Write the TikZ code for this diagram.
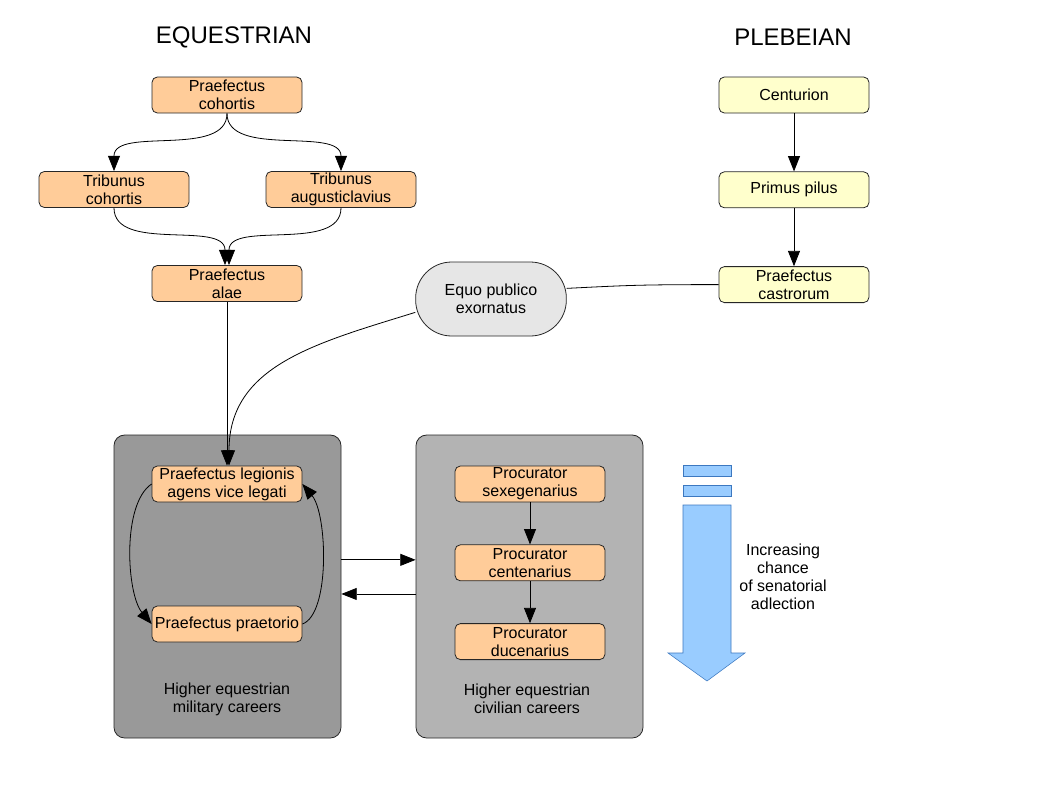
\documentclass[tikz,border=0pt]{standalone}
\usepackage{fontspec}
\setmainfont{Liberation Sans}
\usepackage{xcolor}
\usepackage{tikz}
\usetikzlibrary{positioning}
\usetikzlibrary{arrows.meta}
\definecolor{peach}{HTML}{FFCC99}
\definecolor{cream}{HTML}{FFFFCC}
\definecolor{pale}{HTML}{E6E6E6}
\definecolor{darkpanel}{HTML}{999999}
\definecolor{lightpanel}{HTML}{B3B3B3}
\definecolor{skyfill}{HTML}{99CCFF}
\definecolor{skyedge}{HTML}{3C78C0}
\tikzset {
  node distance={43.5pt},
  % rank boxes
  main/.style = {draw=black!85, semithick, rounded corners=4pt, minimum width=112.5pt,
    minimum height=27pt, inner sep=1pt, align=center, font=\fontsize{12}{13.5}\selectfont},
  % equestrian and plebeian ranks
  equestrian/.style={main, fill=peach},
  plebeian/.style={main, fill=cream},
  % the grant of the public horse
  honour/.style={main, fill=pale, rounded corners=27pt, minimum width=113pt, minimum height=55.5pt},
  % career groups
  panel/.style={draw=black!85, semithick, rounded corners=8pt, minimum width=170.25pt, minimum height=227.25pt},
  % plain text
  title/.style={font=\fontsize{18}{20}\selectfont},
  caption/.style={align=center, font=\fontsize{12}{13.5}\selectfont},
  band/.style={draw=skyedge, fill=skyfill},
  link/.style={semithick, -{Triangle[length=11.5pt,width=9pt]}},
}
\begin{document}
\begin{tikzpicture}[x=0.75pt, y=-0.75pt]
        \useasboundingbox (0,0) rectangle (1058,794);

        \node[title] (eqt) at (234,37) {EQUESTRIAN};
        \node[title] (plt) at (793,37) {PLEBEIAN};

        % career groups first, ranks on top
        \node[panel, fill=darkpanel] (mil) at (227.5,586.5) {};
        \node[panel, fill=lightpanel] (civ) at (529.5,586.5) {};
        \node[caption] (milt) at (227,699) {Higher equestrian\\military careers};
        \node[caption] (civt) at (527,699) {Higher equestrian\\civilian careers};

        \node[equestrian] (pco) at (227,95) {Praefectus\\cohortis};
        \node[equestrian] (tco) at (114,189.5) {Tribunus\\cohortis};
        \node[equestrian] (tau) at (341,189.5) {Tribunus\\augusticlavius};
        \node[equestrian] (pal) at (227,283.5) {Praefectus\\alae};

        \node[plebeian] (cent) at (794,95) {Centurion};
        \node[plebeian] (pil) [below=of cent] {Primus pilus};
        \node[plebeian] (cas) [below=of pil] {Praefectus\\castrorum};

        \node[honour] (eqp) at (491,299) {Equo publico\\exornatus};

        \node[equestrian] (leg) at (227,484) {Praefectus legionis\\agens vice legati};
        \node[equestrian] (pre) at (227,624) {Praefectus praetorio};

        \node[equestrian] (sex) at (530,484) {Procurator\\sexegenarius};
        \node[equestrian] (cen) [below=31.5pt of sex] {Procurator\\centenarius};
        \node[equestrian] (duc) [below=31.5pt of cen] {Procurator\\ducenarius};

        \draw [link] (pco.south) .. controls +(0,45) and +(0,-45) .. (tco.north);
        \draw [link] (pco.south) .. controls +(0,45) and +(0,-45) .. (tau.north);
        \draw [link] (tco.south) .. controls +(0,45) and +(0,-45) .. ([xshift=-1.5pt]pal.north);
        \draw [link] (tau.south) .. controls +(0,45) and +(0,-45) .. ([xshift=1.5pt]pal.north);
        \draw [link] (pal) -- (leg);
        \draw [link] (eqp.190) .. controls +(-100,31) and +(0,-100) .. ([xshift=1.5pt]leg.north);
        \draw [semithick] (cas.west) .. controls +(-80,0) and +(60,-3) .. (eqp.8);

        \draw [link] (cent) -- (pil);
        \draw [link] (pil) -- (cas);

        \draw [link] (leg.west) .. controls +(-30,20) and +(-25,-30) .. (pre.west);
        \draw [link] (pre.east) .. controls +(28,-10) and +(25,30) .. (leg.east);

        \draw [link] (sex) -- (cen);
        \draw [link] (cen) -- (duc);

        \draw [link] ([yshift=20pt]mil.east) -- ([yshift=20pt]civ.west);
        \draw [link] ([yshift=-5.6pt]civ.west) -- ([yshift=-5.6pt]mil.east);

        % senatorial adlection arrow
        \draw[band] (683,465) rectangle (731,476);
        \draw[band] (683,485) rectangle (731,496);
        \draw[band] (683,505) -- (731,505) -- (731,653) -- (745,653) -- (707,681)
          -- (668,653) -- (683,653) -- cycle;
        \node[caption] (adl) at (783,577) {Increasing\\chance\\of senatorial\\adlection};
      \end{tikzpicture}
\end{document}
